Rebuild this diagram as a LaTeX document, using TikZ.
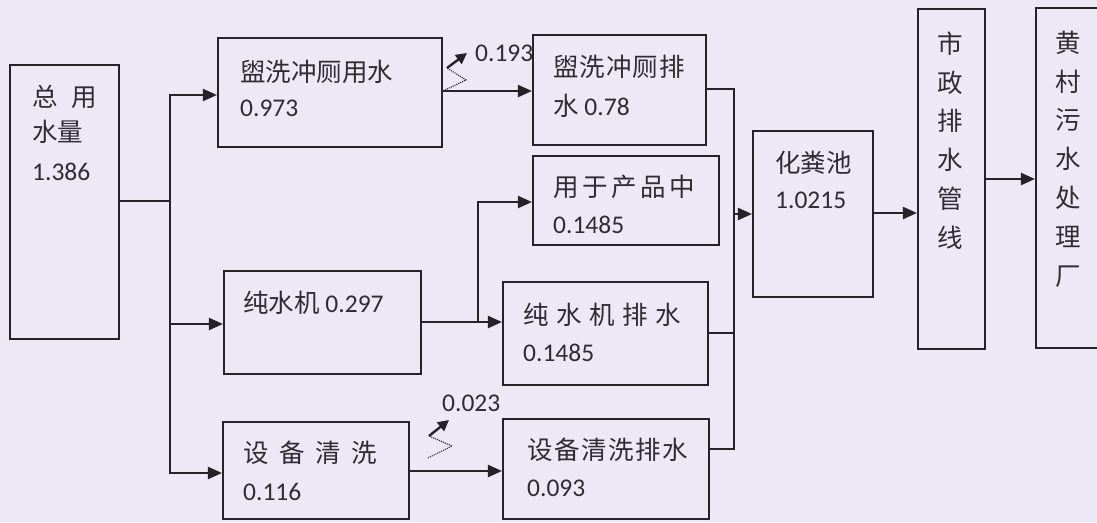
\documentclass[tikz,border=0pt]{standalone}
\usepackage{fontspec}
\setmainfont{Carlito}
\newfontfamily\cjk{Noto Sans CJK SC}
\usetikzlibrary{arrows.meta}
\definecolor{bg}{RGB}{236,232,245}
\definecolor{ink}{RGB}{35,35,40}
\definecolor{txtc}{RGB}{45,45,50}
\begin{document}
\begin{tikzpicture}[x=1pt,y=-1pt,
  box/.style={draw=ink,line width=2.1pt,fill=bg,inner sep=0pt},
  lbl/.style={inner sep=0pt,anchor=west,text=txtc,font=\fontsize{25.5}{30}\selectfont},
  vlbl/.style={inner sep=0pt,align=center,text=txtc,font=\fontsize{25.5}{38.8}\selectfont\cjk},
  ln/.style={draw=ink,line width=2.2pt},
  arr/.style={draw=ink,line width=2.2pt,-{Triangle[length=14pt,width=12pt]}},
  loss/.style={draw=ink,line width=2.4pt,-{Triangle[length=11pt,width=11pt]}},
  lossdot/.style={draw=ink,line width=1.1pt,densely dotted}]
\fill[bg] (0,0) rectangle (1097,522);
\useasboundingbox (0,0) rectangle (1097,522);

% loss label partly hidden by the box drawn after it
\node[lbl] (l193) at (475,53) {0.193};

% boxes
\node[box,minimum width=109pt,minimum height=274pt] (total) at (64.5,202) {};
\node[box,minimum width=224pt,minimum height=109pt] (wash) at (330,92.5) {};
\node[box,minimum width=197pt,minimum height=103pt] (pure) at (322.5,322.5) {};
\node[box,minimum width=186pt,minimum height=97pt] (equip) at (316,470.5) {};
\node[box,minimum width=173pt,minimum height=110pt] (washout) at (619.5,90) {};
\node[box,minimum width=186pt,minimum height=89pt] (product) at (626,200.5) {};
\node[box,minimum width=205pt,minimum height=103pt] (pureout) at (605.5,333.5) {};
\node[box,minimum width=206pt,minimum height=100pt] (equipout) at (606,469) {};
\node[box,minimum width=120pt,minimum height=166pt] (septic) at (813,214) {};
\node[box,minimum width=67pt,minimum height=340pt] (muni) at (951.5,179) {};
\node[box,minimum width=64pt,minimum height=340pt] (plant) at (1068,178) {};

% texts
\node[lbl] (t1a) at (32,97) {\cjk 总\hspace{14pt}用};
\node[lbl] (t1b) at (32,132) {\cjk 水量};
\node[lbl] (t1c) at (32,172) {1.386};
\node[lbl] (t2a) at (240,72) {\cjk 盥洗冲厕用水};
\node[lbl] (t2b) at (240,108) {0.973};
\node[lbl] (t3a) at (243,303) {{\cjk 纯水机} 0.297};
\node[lbl] (t4a) at (243,453) {\cjk 设\hspace{10.5pt}备\hspace{10.5pt}清\hspace{10.5pt}洗};
\node[lbl] (t4b) at (243,492) {0.116};
\node[lbl] (t5a) at (553,67) {\cjk 盥\hspace{1pt}洗\hspace{1pt}冲\hspace{1pt}厕\hspace{1pt}排};
\node[lbl] (t5b) at (553,106) {{\cjk 水} 0.78};
\node[lbl] (t6a) at (553,187) {\cjk 用\hspace{3.5pt}于\hspace{3.5pt}产\hspace{3.5pt}品\hspace{3.5pt}中};
\node[lbl] (t6b) at (553,225) {0.1485};
\node[lbl] (t7a) at (523,315) {\cjk 纯\hspace{7.5pt}水\hspace{7.5pt}机\hspace{7.5pt}排\hspace{7.5pt}水};
\node[lbl] (t7b) at (523,353) {0.1485};
\node[lbl] (t8a) at (527,450) {\cjk 设\hspace{1.5pt}备\hspace{1.5pt}清\hspace{1.5pt}洗\hspace{1.5pt}排\hspace{1.5pt}水};
\node[lbl] (t8b) at (527,488) {0.093};
\node[lbl] (t9a) at (775,163) {\cjk 化粪池};
\node[lbl] (t9b) at (775,200) {1.0215};
\node[vlbl] (t10) at (950,140.5) {市\\政\\排\\水\\管\\线};
\node[vlbl] (t11) at (1068,159) {黄\\村\\污\\水\\处\\理\\厂};
\node[lbl] (l023) at (442,403) {0.023};

% trunk from total
\coordinate (j0) at (170,201);
\coordinate (tt) at (170,95);
\coordinate (tm) at (170,324);
\coordinate (tb) at (170,473);
\draw[ln] (total.east |- j0) -- (j0);
\draw[ln,line cap=rect] (tt) -- (tb);
\draw[arr] (tt) -- (tt -| wash.west);
\draw[arr] (tm) -- (tm -| pure.west);
\draw[arr] (tb) -- (tb -| equip.west);

% middle connectors
\coordinate (a1) at (442,91);
\draw[arr] (wash.east |- a1) -- (washout.west |- a1);
\coordinate (p1) at (478,322);
\coordinate (p2) at (478,202);
\draw[arr] (pure.east |- p1) -- (pureout.west |- p1);
\draw[arr] (p1) -- (p2) -- (product.west |- p2);
\coordinate (e1) at (420,471);
\draw[arr] (equip.east |- e1) -- (equipout.west |- e1);

% loss zigzags
\coordinate (za1) at (445,90);
\coordinate (za2) at (466,80);
\coordinate (za3) at (447,68);
\coordinate (za4) at (467,53);
\draw[lossdot] (za1) -- (za2) -- (za3);
\draw[loss] (za3) -- (za4);
\coordinate (zb1) at (428,458);
\coordinate (zb2) at (452,446);
\coordinate (zb3) at (429,436);
\coordinate (zb4) at (449,420);
\draw[lossdot] (zb1) -- (zb2) -- (zb3);
\draw[loss] (zb3) -- (zb4);

% collector
\coordinate (c1) at (734,89);
\coordinate (c2) at (734,333);
\coordinate (c3) at (734,449);
\coordinate (c4) at (734,214);
\draw[ln] (washout.east |- c1) -- (c1) -- (c3) -- (equipout.east |- c3);
\draw[ln] (pureout.east |- c2) -- (c2);
\draw[arr] (c4) -- (septic.west |- c4);
\coordinate (s1) at (880,213);
\draw[arr] (septic.east |- s1) -- (muni.west |- s1);
\coordinate (m1) at (990,179);
\draw[arr] (muni.east |- m1) -- (plant.west |- m1);
\end{tikzpicture}
\end{document}
